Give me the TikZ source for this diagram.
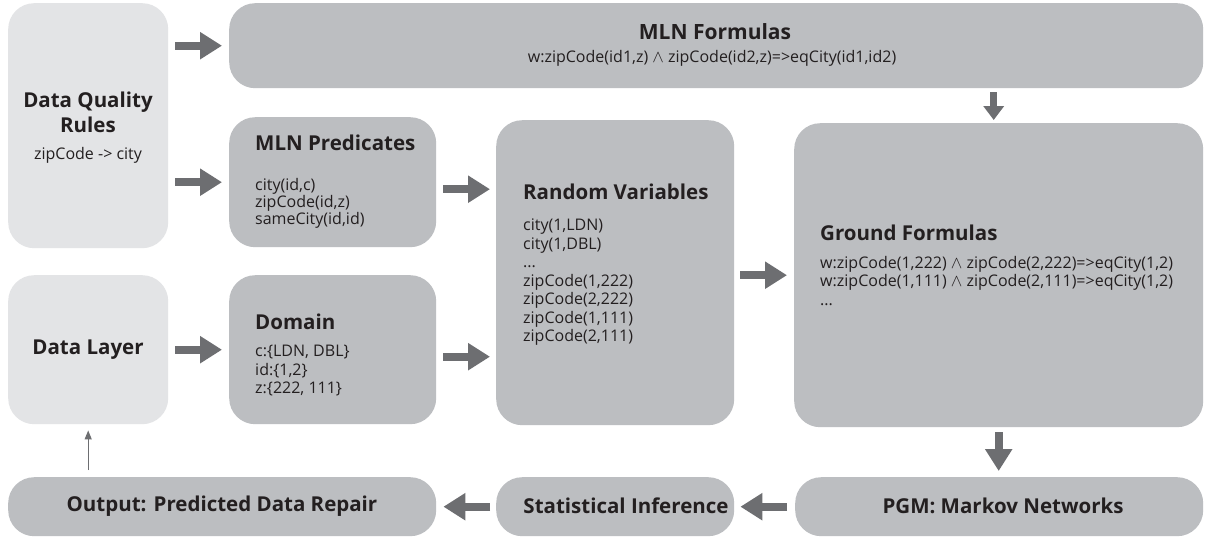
\documentclass[tikz,border=0pt]{standalone}
\usepackage{fontspec}
\setmainfont{Open Sans}
\usetikzlibrary{arrows.meta,calc}
\definecolor{boxdark}{HTML}{BCBEC1}
\definecolor{boxlight}{HTML}{E3E4E6}
\definecolor{arrowc}{HTML}{6D6E71}
\definecolor{txt}{HTML}{231F20}
\begin{document}
\begin{tikzpicture}[x=1pt,y=-1pt,
  box/.style={fill=boxdark, draw=none, rounded corners=26pt, inner sep=0pt, anchor=north west},
  lbox/.style={box, fill=boxlight},
  ttl/.style={font=\fontsize{20.5}{25}\selectfont\bfseries, text=txt, inner sep=0pt, align=center},
  body/.style={font=\fontsize{16}{18.5}\selectfont, text=txt, inner sep=0pt, align=left},
  fat/.style={draw=arrowc, line width=8pt, -{Triangle[length=22pt,width=26pt]}},
  thin/.style={draw=arrowc, line width=1.2pt, -{Triangle[length=9pt,width=7pt]}},
]
\useasboundingbox[fill=white] (0,0) rectangle (1208,539);

% boxes
\node[lbox, minimum width=160pt, minimum height=245pt] (dqr) at (8,3) {};
\node[box, minimum width=974pt, minimum height=85pt] (fm) at (229,3) {};
\node[box, minimum width=207pt, minimum height=130pt] (pred) at (229,117) {};
\node[lbox, minimum width=160pt, minimum height=149pt] (dl) at (8,275) {};
\node[box, minimum width=207pt, minimum height=149pt] (dom) at (229,275) {};
\node[box, minimum width=238pt, minimum height=305pt] (rv) at (496,120) {};
\node[box, minimum width=409pt, minimum height=304pt] (gf) at (794,123) {};
\node[box, minimum width=428pt, minimum height=59pt] (out) at (8,477) {};
\node[box, minimum width=238pt, minimum height=59pt] (si) at (496,477) {};
\node[box, minimum width=408pt, minimum height=59pt] (pgm) at (795,477) {};

% texts
\node[ttl] (dqrt) at (88,112) {Data Quality\\Rules};
\node[body, anchor=center] (dqrb) at (88,155) {zipCode -> city};
\node[ttl, font=\fontsize{21}{25}\selectfont\bfseries] (fmt) at (715,32) {MLN Formulas};
\node[body, anchor=center] (fmb) at (712,58) {w:zipCode(id1,z) $\wedge$ zipCode(id2,z)=>eqCity(id1,id2)};
\node[ttl, anchor=west] (predt) at (255,143) {MLN Predicates};
\node[body, anchor=north west, font=\fontsize{16}{17}\selectfont] (predb) at (255,178) {city(id,c)\\zipCode(id,z)\\sameCity(id,id)};
\node[ttl, anchor=west] (rvt) at (523,192) {Random Variables};
\node[body, anchor=north west] (rvb) at (523,219) {city(1,LDN)\\city(1,DBL)\\...\\zipCode(1,222)\\zipCode(2,222)\\zipCode(1,111)\\zipCode(2,111)};
\node[ttl, anchor=west] (gft) at (820,233) {Ground Formulas};
\node[body, anchor=north west] (gfb) at (820,256) {w:zipCode(1,222) $\wedge$ zipCode(2,222)=>eqCity(1,2)\\w:zipCode(1,111) $\wedge$ zipCode(2,111)=>eqCity(1,2)\\...};
\node[ttl] (dlt) at (88,350) {Data Layer};
\node[ttl, anchor=west] (domt) at (255,322) {Domain};
\node[body, anchor=north west] (domb) at (255,345) {c:\{LDN, DBL\}\\id:\{1,2\}\\z:\{222, 111\}};
\node[ttl] (outt) at (222,506) {Output: Predicted Data Repair};
\node[ttl] (sit) at (626,506) {Statistical Inference};
\node[ttl] (pgmt) at (1003,506) {PGM: Markov Networks};

% arrows
\draw[fat, shorten <=7pt, shorten >=7pt] (dqr.east |- fm.west) -- (fm.west);
\draw[fat, shorten <=7pt, shorten >=7pt] (dqr.east |- pred.west) -- (pred.west);
\draw[fat, shorten <=7pt, shorten >=7pt] (dl.east) -- (dom.west);
\draw[fat, shorten <=7pt, shorten >=6pt] ([yshift=-7pt]pred.east) -- ([yshift=-7pt]pred.east -| rv.west);
\draw[fat, shorten <=7pt, shorten >=6pt] ([yshift=-7pt]dom.east) -- ([yshift=-7pt]dom.east -| rv.west);
\draw[fat, shorten <=6pt, shorten >=7pt] (rv.east |- gf.west) -- (gf.west);
\draw[draw=arrowc, line width=7pt, -{Triangle[length=14pt,width=20pt]}, shorten <=4pt, shorten >=3pt] ([xshift=-5pt]gf.north |- fm.south) -- ([xshift=-5pt]gf.north);
\draw[fat, shorten <=5pt, shorten >=6pt] (gf.south) -- (gf.south |- pgm.north);
\draw[fat, shorten <=8pt, shorten >=6pt] (pgm.west) -- (si.east);
\draw[fat, shorten <=6pt, shorten >=7pt] (si.west) -- (out.east);
\draw[thin, shorten <=7pt, shorten >=6pt] (dl.south |- out.north) -- (dl.south);
\end{tikzpicture}
\end{document}
